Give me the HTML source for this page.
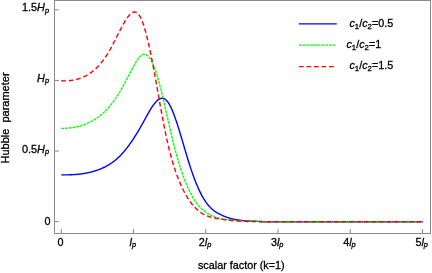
<!DOCTYPE html>
<html><head><meta charset="utf-8"><title>plot</title>
<style>
html,body{margin:0;padding:0;background:#fff;}
body{width:432px;height:273px;overflow:hidden;position:relative;font-family:"Liberation Sans",sans-serif;}
svg{will-change:transform;}
svg text{font-family:"Liberation Sans",sans-serif;fill:#000;stroke:#000;stroke-width:0.3px;}
</style></head><body>
<svg width="432" height="273" viewBox="0 0 432 273" style="position:absolute;left:0;top:0">
<rect x="0" y="0" width="432" height="273" fill="#fff"/>
<path d="M61.25,174.88 L61.75,174.88 L62.25,174.89 L62.75,174.89 L63.25,174.89 L63.75,174.89 L64.25,174.89 L64.75,174.89 L65.25,174.89 L65.75,174.89 L66.25,174.88 L66.75,174.87 L67.25,174.87 L67.75,174.86 L68.25,174.85 L68.75,174.83 L69.25,174.82 L69.75,174.80 L70.25,174.79 L70.75,174.77 L71.25,174.75 L71.75,174.72 L72.25,174.70 L72.75,174.67 L73.25,174.64 L73.75,174.61 L74.25,174.58 L74.75,174.55 L75.25,174.51 L75.75,174.47 L76.25,174.43 L76.75,174.39 L77.25,174.34 L77.75,174.29 L78.25,174.24 L78.75,174.19 L79.25,174.13 L79.75,174.08 L80.25,174.02 L80.75,173.95 L81.25,173.89 L81.75,173.82 L82.25,173.75 L82.75,173.68 L83.25,173.60 L83.75,173.52 L84.25,173.44 L84.75,173.35 L85.25,173.27 L85.75,173.18 L86.25,173.08 L86.75,172.98 L87.25,172.88 L87.75,172.78 L88.25,172.67 L88.75,172.56 L89.25,172.45 L89.75,172.33 L90.25,172.22 L90.75,172.09 L91.25,171.97 L91.75,171.84 L92.25,171.70 L92.75,171.56 L93.25,171.42 L93.75,171.28 L94.25,171.13 L94.75,170.98 L95.25,170.82 L95.75,170.66 L96.25,170.50 L96.75,170.33 L97.25,170.16 L97.75,169.98 L98.25,169.80 L98.75,169.62 L99.25,169.43 L99.75,169.24 L100.25,169.04 L100.75,168.84 L101.25,168.63 L101.75,168.41 L102.25,168.20 L102.75,167.97 L103.25,167.74 L103.75,167.51 L104.25,167.27 L104.75,167.02 L105.25,166.77 L105.75,166.51 L106.25,166.24 L106.75,165.97 L107.25,165.69 L107.75,165.40 L108.25,165.11 L108.75,164.81 L109.25,164.50 L109.75,164.19 L110.25,163.87 L110.75,163.54 L111.25,163.20 L111.75,162.86 L112.25,162.50 L112.75,162.14 L113.25,161.77 L113.75,161.39 L114.25,161.01 L114.75,160.61 L115.25,160.21 L115.75,159.80 L116.25,159.37 L116.75,158.94 L117.25,158.50 L117.75,158.05 L118.25,157.59 L118.75,157.12 L119.25,156.64 L119.75,156.15 L120.25,155.65 L120.75,155.14 L121.25,154.62 L121.75,154.09 L122.25,153.55 L122.75,153.00 L123.25,152.43 L123.75,151.86 L124.25,151.27 L124.75,150.68 L125.25,150.07 L125.75,149.46 L126.25,148.83 L126.75,148.19 L127.25,147.55 L127.75,146.89 L128.25,146.22 L128.75,145.55 L129.25,144.86 L129.75,144.17 L130.25,143.46 L130.75,142.75 L131.25,142.03 L131.75,141.30 L132.25,140.56 L132.75,139.81 L133.25,139.05 L133.75,138.29 L134.25,137.52 L134.75,136.73 L135.25,135.94 L135.75,135.15 L136.25,134.34 L136.75,133.53 L137.25,132.71 L137.75,131.88 L138.25,131.05 L138.75,130.20 L139.25,129.36 L139.75,128.50 L140.25,127.64 L140.75,126.77 L141.25,125.89 L141.75,125.01 L142.25,124.12 L142.75,123.23 L143.25,122.32 L143.75,121.42 L144.25,120.51 L144.75,119.60 L145.25,118.68 L145.75,117.77 L146.25,116.86 L146.75,115.96 L147.25,115.06 L147.75,114.17 L148.25,113.28 L148.75,112.41 L149.25,111.54 L149.75,110.70 L150.25,109.86 L150.75,109.04 L151.25,108.24 L151.75,107.46 L152.25,106.70 L152.75,105.97 L153.25,105.25 L153.75,104.56 L154.25,103.90 L154.75,103.27 L155.25,102.67 L155.75,102.10 L156.25,101.56 L156.75,101.06 L157.25,100.59 L157.75,100.16 L158.25,99.77 L158.75,99.43 L159.25,99.12 L159.75,98.86 L160.25,98.64 L160.75,98.47 L161.25,98.35 L161.75,98.28 L162.25,98.26 L162.75,98.30 L163.25,98.39 L163.75,98.53 L164.25,98.73 L164.75,99.00 L165.25,99.32 L165.75,99.70 L166.25,100.15 L166.75,100.67 L167.25,101.25 L167.75,101.90 L168.25,102.61 L168.75,103.38 L169.25,104.22 L169.75,105.11 L170.25,106.06 L170.75,107.06 L171.25,108.11 L171.75,109.22 L172.25,110.37 L172.75,111.57 L173.25,112.81 L173.75,114.09 L174.25,115.42 L174.75,116.78 L175.25,118.18 L175.75,119.61 L176.25,121.07 L176.75,122.57 L177.25,124.09 L177.75,125.64 L178.25,127.21 L178.75,128.80 L179.25,130.41 L179.75,132.05 L180.25,133.69 L180.75,135.35 L181.25,137.03 L181.75,138.71 L182.25,140.40 L182.75,142.09 L183.25,143.79 L183.75,145.50 L184.25,147.20 L184.75,148.90 L185.25,150.59 L185.75,152.28 L186.25,153.96 L186.75,155.63 L187.25,157.29 L187.75,158.93 L188.25,160.56 L188.75,162.17 L189.25,163.76 L189.75,165.32 L190.25,166.87 L190.75,168.38 L191.25,169.88 L191.75,171.35 L192.25,172.79 L192.75,174.21 L193.25,175.60 L193.75,176.97 L194.25,178.32 L194.75,179.63 L195.25,180.93 L195.75,182.19 L196.25,183.43 L196.75,184.65 L197.25,185.84 L197.75,187.00 L198.25,188.14 L198.75,189.25 L199.25,190.33 L199.75,191.39 L200.25,192.41 L200.75,193.42 L201.25,194.39 L201.75,195.34 L202.25,196.26 L202.75,197.15 L203.25,198.02 L203.75,198.86 L204.25,199.67 L204.75,200.45 L205.25,201.20 L205.75,201.93 L206.25,202.63 L206.75,203.31 L207.25,203.96 L207.75,204.58 L208.25,205.18 L208.75,205.76 L209.25,206.32 L209.75,206.86 L210.25,207.38 L210.75,207.87 L211.25,208.35 L211.75,208.81 L212.25,209.25 L212.75,209.67 L213.25,210.08 L213.75,210.48 L214.25,210.85 L214.75,211.22 L215.25,211.57 L215.75,211.91 L216.25,212.23 L216.75,212.55 L217.25,212.85 L217.75,213.14 L218.25,213.43 L218.75,213.71 L219.25,213.98 L219.75,214.24 L220.25,214.49 L220.75,214.74 L221.25,214.99 L221.75,215.22 L222.25,215.45 L222.75,215.67 L223.25,215.89 L223.75,216.10 L224.25,216.31 L224.75,216.51 L225.25,216.70 L225.75,216.89 L226.25,217.07 L226.75,217.24 L227.25,217.42 L227.75,217.58 L228.25,217.74 L228.75,217.90 L229.25,218.05 L229.75,218.19 L230.25,218.33 L230.75,218.47 L231.25,218.60 L231.75,218.72 L232.25,218.85 L232.75,218.96 L233.25,219.08 L233.75,219.19 L234.25,219.29 L234.75,219.39 L235.25,219.49 L235.75,219.58 L236.25,219.67 L236.75,219.76 L237.25,219.84 L237.75,219.92 L238.25,219.99 L238.75,220.07 L239.25,220.13 L239.75,220.20 L240.25,220.26 L240.75,220.32 L241.25,220.38 L241.75,220.44 L242.25,220.49 L242.75,220.54 L243.25,220.59 L243.75,220.63 L244.25,220.68 L244.75,220.72 L245.25,220.76 L245.75,220.79 L246.25,220.83 L246.75,220.86 L247.25,220.90 L247.75,220.93 L248.25,220.96 L248.75,220.98 L249.25,221.01 L249.75,221.04 L250.25,221.06 L250.75,221.08 L251.25,221.11 L251.75,221.13 L252.25,221.15 L252.75,221.17 L253.25,221.19 L253.75,221.21 L254.25,221.23 L254.75,221.25 L255.25,221.27 L255.75,221.29 L256.25,221.32 L256.75,221.34 L257.25,221.36 L257.75,221.38 L258.25,221.40 L258.75,221.42 L259.25,221.44 L259.75,221.47 L260.25,221.49 L260.75,221.52 L261.25,221.55 L261.75,221.57 L262.25,221.60 L262.75,221.64 L263.25,221.67 L263.75,221.70 L264.25,221.74 L264.75,221.75 L265.25,221.75 L265.75,221.75 L266.25,221.75 L266.75,221.75 L267.25,221.75 L267.75,221.75 L268.25,221.75 L268.75,221.75 L269.25,221.75 L269.75,221.75 L270.25,221.75 L270.75,221.75 L271.25,221.75 L271.75,221.75 L272.25,221.75 L272.75,221.75 L273.25,221.75 L273.75,221.75 L274.25,221.75 L274.75,221.75 L275.25,221.75 L275.75,221.75 L276.25,221.75 L276.75,221.75 L277.25,221.75 L277.75,221.75 L278.25,221.75 L278.75,221.75 L279.25,221.75 L279.75,221.75 L280.25,221.75 L280.75,221.75 L281.25,221.75 L281.75,221.75 L282.25,221.75 L282.75,221.75 L283.25,221.75 L283.75,221.75 L284.25,221.75 L284.75,221.75 L285.25,221.75 L285.75,221.75 L286.25,221.75 L286.75,221.75 L287.25,221.75 L287.75,221.75 L288.25,221.75 L288.75,221.75 L289.25,221.75 L289.75,221.75 L290.25,221.75 L290.75,221.75 L291.25,221.75 L291.75,221.75 L292.25,221.75 L292.75,221.75 L293.25,221.75 L293.75,221.75 L294.25,221.75 L294.75,221.75 L295.25,221.75 L295.75,221.75 L296.25,221.75 L296.75,221.75 L297.25,221.75 L297.75,221.75 L298.25,221.75 L298.75,221.75 L299.25,221.75 L299.75,221.75 L300.25,221.75 L300.75,221.75 L301.25,221.75 L301.75,221.75 L302.25,221.75 L302.75,221.75 L303.25,221.75 L303.75,221.75 L304.25,221.75 L304.75,221.75 L305.25,221.75 L305.75,221.75 L306.25,221.75 L306.75,221.75 L307.25,221.75 L307.75,221.75 L308.25,221.75 L308.75,221.75 L309.25,221.75 L309.75,221.75 L310.25,221.75 L310.75,221.75 L311.25,221.75 L311.75,221.75 L312.25,221.75 L312.75,221.75 L313.25,221.75 L313.75,221.75 L314.25,221.75 L314.75,221.75 L315.25,221.75 L315.75,221.75 L316.25,221.75 L316.75,221.75 L317.25,221.75 L317.75,221.75 L318.25,221.75 L318.75,221.75 L319.25,221.75 L319.75,221.75 L320.25,221.75 L320.75,221.75 L321.25,221.75 L321.75,221.75 L322.25,221.75 L322.75,221.75 L323.25,221.75 L323.75,221.75 L324.25,221.75 L324.75,221.75 L325.25,221.75 L325.75,221.75 L326.25,221.75 L326.75,221.75 L327.25,221.75 L327.75,221.75 L328.25,221.75 L328.75,221.75 L329.25,221.75 L329.75,221.75 L330.25,221.75 L330.75,221.75 L331.25,221.75 L331.75,221.75 L332.25,221.75 L332.75,221.75 L333.25,221.75 L333.75,221.75 L334.25,221.75 L334.75,221.75 L335.25,221.75 L335.75,221.75 L336.25,221.75 L336.75,221.75 L337.25,221.75 L337.75,221.75 L338.25,221.75 L338.75,221.75 L339.25,221.75 L339.75,221.75 L340.25,221.75 L340.75,221.75 L341.25,221.75 L341.75,221.75 L342.25,221.75 L342.75,221.75 L343.25,221.75 L343.75,221.75 L344.25,221.75 L344.75,221.75 L345.25,221.75 L345.75,221.75 L346.25,221.75 L346.75,221.75 L347.25,221.75 L347.75,221.75 L348.25,221.75 L348.75,221.75 L349.25,221.75 L349.75,221.75 L350.25,221.75 L350.75,221.75 L351.25,221.75 L351.75,221.75 L352.25,221.75 L352.75,221.75 L353.25,221.75 L353.75,221.75 L354.25,221.75 L354.75,221.75 L355.25,221.75 L355.75,221.75 L356.25,221.75 L356.75,221.75 L357.25,221.75 L357.75,221.75 L358.25,221.75 L358.75,221.75 L359.25,221.75 L359.75,221.75 L360.25,221.75 L360.75,221.75 L361.25,221.75 L361.75,221.75 L362.25,221.75 L362.75,221.75 L363.25,221.75 L363.75,221.75 L364.25,221.75 L364.75,221.75 L365.25,221.75 L365.75,221.75 L366.25,221.75 L366.75,221.75 L367.25,221.75 L367.75,221.75 L368.25,221.75 L368.75,221.75 L369.25,221.75 L369.75,221.75 L370.25,221.75 L370.75,221.75 L371.25,221.75 L371.75,221.75 L372.25,221.75 L372.75,221.75 L373.25,221.75 L373.75,221.75 L374.25,221.75 L374.75,221.75 L375.25,221.75 L375.75,221.75 L376.25,221.75 L376.75,221.75 L377.25,221.75 L377.75,221.75 L378.25,221.75 L378.75,221.75 L379.25,221.75 L379.75,221.75 L380.25,221.75 L380.75,221.75 L381.25,221.75 L381.75,221.75 L382.25,221.75 L382.75,221.75 L383.25,221.75 L383.75,221.75 L384.25,221.75 L384.75,221.75 L385.25,221.75 L385.75,221.75 L386.25,221.75 L386.75,221.75 L387.25,221.75 L387.75,221.75 L388.25,221.75 L388.75,221.75 L389.25,221.75 L389.75,221.75 L390.25,221.75 L390.75,221.75 L391.25,221.75 L391.75,221.75 L392.25,221.75 L392.75,221.75 L393.25,221.75 L393.75,221.75 L394.25,221.75 L394.75,221.75 L395.25,221.75 L395.75,221.75 L396.25,221.75 L396.75,221.75 L397.25,221.75 L397.75,221.75 L398.25,221.75 L398.75,221.75 L399.25,221.75 L399.75,221.75 L400.25,221.75 L400.75,221.75 L401.25,221.75 L401.75,221.75 L402.25,221.75 L402.75,221.75 L403.25,221.75 L403.75,221.75 L404.25,221.75 L404.75,221.75 L405.25,221.75 L405.75,221.75 L406.25,221.75 L406.75,221.75 L407.25,221.75 L407.75,221.75 L408.25,221.75 L408.75,221.75 L409.25,221.75 L409.75,221.75 L410.25,221.75 L410.75,221.75 L411.25,221.75 L411.75,221.75 L412.25,221.75 L412.75,221.75 L413.25,221.75 L413.75,221.75 L414.25,221.75 L414.75,221.75 L415.25,221.75 L415.75,221.75 L416.25,221.75 L416.75,221.75 L417.25,221.75 L417.75,221.75 L418.25,221.75 L418.75,221.75 L419.25,221.75 L419.75,221.75 L420.25,221.75 L420.75,221.75 L421.25,221.75 L421.75,221.75 L422.25,221.75 L422.75,221.75" fill="none" stroke="#0000ff" stroke-width="1.4"/>
<path d="M61.25,128.33 L61.75,128.34 L62.25,128.34 L62.75,128.34 L63.25,128.34 L63.75,128.33 L64.25,128.32 L64.75,128.31 L65.25,128.29 L65.75,128.27 L66.25,128.25 L66.75,128.22 L67.25,128.19 L67.75,128.15 L68.25,128.11 L68.75,128.07 L69.25,128.02 L69.75,127.97 L70.25,127.92 L70.75,127.86 L71.25,127.79 L71.75,127.73 L72.25,127.66 L72.75,127.58 L73.25,127.50 L73.75,127.42 L74.25,127.33 L74.75,127.24 L75.25,127.14 L75.75,127.04 L76.25,126.93 L76.75,126.82 L77.25,126.71 L77.75,126.59 L78.25,126.47 L78.75,126.34 L79.25,126.20 L79.75,126.07 L80.25,125.92 L80.75,125.78 L81.25,125.62 L81.75,125.47 L82.25,125.30 L82.75,125.14 L83.25,124.97 L83.75,124.79 L84.25,124.61 L84.75,124.42 L85.25,124.23 L85.75,124.03 L86.25,123.83 L86.75,123.62 L87.25,123.40 L87.75,123.18 L88.25,122.96 L88.75,122.72 L89.25,122.49 L89.75,122.24 L90.25,121.99 L90.75,121.73 L91.25,121.47 L91.75,121.20 L92.25,120.92 L92.75,120.64 L93.25,120.35 L93.75,120.05 L94.25,119.74 L94.75,119.43 L95.25,119.11 L95.75,118.78 L96.25,118.45 L96.75,118.10 L97.25,117.75 L97.75,117.39 L98.25,117.03 L98.75,116.65 L99.25,116.27 L99.75,115.88 L100.25,115.47 L100.75,115.07 L101.25,114.65 L101.75,114.22 L102.25,113.78 L102.75,113.34 L103.25,112.88 L103.75,112.42 L104.25,111.95 L104.75,111.46 L105.25,110.97 L105.75,110.47 L106.25,109.96 L106.75,109.43 L107.25,108.90 L107.75,108.36 L108.25,107.81 L108.75,107.24 L109.25,106.67 L109.75,106.08 L110.25,105.49 L110.75,104.88 L111.25,104.27 L111.75,103.64 L112.25,103.00 L112.75,102.35 L113.25,101.68 L113.75,101.01 L114.25,100.32 L114.75,99.62 L115.25,98.92 L115.75,98.19 L116.25,97.46 L116.75,96.71 L117.25,95.96 L117.75,95.18 L118.25,94.40 L118.75,93.60 L119.25,92.80 L119.75,91.97 L120.25,91.14 L120.75,90.29 L121.25,89.44 L121.75,88.57 L122.25,87.69 L122.75,86.80 L123.25,85.91 L123.75,85.00 L124.25,84.08 L124.75,83.16 L125.25,82.23 L125.75,81.29 L126.25,80.35 L126.75,79.40 L127.25,78.44 L127.75,77.48 L128.25,76.51 L128.75,75.54 L129.25,74.57 L129.75,73.59 L130.25,72.61 L130.75,71.63 L131.25,70.65 L131.75,69.67 L132.25,68.70 L132.75,67.74 L133.25,66.79 L133.75,65.86 L134.25,64.94 L134.75,64.05 L135.25,63.17 L135.75,62.33 L136.25,61.51 L136.75,60.72 L137.25,59.97 L137.75,59.26 L138.25,58.58 L138.75,57.95 L139.25,57.36 L139.75,56.82 L140.25,56.33 L140.75,55.89 L141.25,55.51 L141.75,55.18 L142.25,54.91 L142.75,54.70 L143.25,54.54 L143.75,54.45 L144.25,54.41 L144.75,54.43 L145.25,54.51 L145.75,54.66 L146.25,54.86 L146.75,55.13 L147.25,55.46 L147.75,55.86 L148.25,56.31 L148.75,56.84 L149.25,57.42 L149.75,58.08 L150.25,58.80 L150.75,59.59 L151.25,60.44 L151.75,61.36 L152.25,62.36 L152.75,63.42 L153.25,64.55 L153.75,65.76 L154.25,67.03 L154.75,68.38 L155.25,69.79 L155.75,71.26 L156.25,72.80 L156.75,74.39 L157.25,76.04 L157.75,77.74 L158.25,79.49 L158.75,81.29 L159.25,83.13 L159.75,85.02 L160.25,86.94 L160.75,88.91 L161.25,90.90 L161.75,92.93 L162.25,94.98 L162.75,97.06 L163.25,99.16 L163.75,101.29 L164.25,103.43 L164.75,105.58 L165.25,107.75 L165.75,109.93 L166.25,112.12 L166.75,114.31 L167.25,116.51 L167.75,118.71 L168.25,120.91 L168.75,123.10 L169.25,125.29 L169.75,127.47 L170.25,129.64 L170.75,131.79 L171.25,133.93 L171.75,136.05 L172.25,138.15 L172.75,140.23 L173.25,142.28 L173.75,144.30 L174.25,146.30 L174.75,148.26 L175.25,150.19 L175.75,152.08 L176.25,153.93 L176.75,155.75 L177.25,157.53 L177.75,159.28 L178.25,160.99 L178.75,162.67 L179.25,164.31 L179.75,165.92 L180.25,167.49 L180.75,169.04 L181.25,170.54 L181.75,172.02 L182.25,173.47 L182.75,174.88 L183.25,176.26 L183.75,177.61 L184.25,178.93 L184.75,180.22 L185.25,181.48 L185.75,182.71 L186.25,183.92 L186.75,185.09 L187.25,186.23 L187.75,187.35 L188.25,188.44 L188.75,189.50 L189.25,190.54 L189.75,191.55 L190.25,192.53 L190.75,193.49 L191.25,194.42 L191.75,195.33 L192.25,196.21 L192.75,197.07 L193.25,197.91 L193.75,198.72 L194.25,199.51 L194.75,200.28 L195.25,201.02 L195.75,201.75 L196.25,202.45 L196.75,203.13 L197.25,203.79 L197.75,204.43 L198.25,205.05 L198.75,205.65 L199.25,206.23 L199.75,206.79 L200.25,207.34 L200.75,207.86 L201.25,208.37 L201.75,208.86 L202.25,209.34 L202.75,209.79 L203.25,210.24 L203.75,210.66 L204.25,211.07 L204.75,211.47 L205.25,211.85 L205.75,212.22 L206.25,212.57 L206.75,212.91 L207.25,213.24 L207.75,213.55 L208.25,213.86 L208.75,214.15 L209.25,214.42 L209.75,214.69 L210.25,214.95 L210.75,215.20 L211.25,215.43 L211.75,215.66 L212.25,215.88 L212.75,216.09 L213.25,216.29 L213.75,216.48 L214.25,216.67 L214.75,216.84 L215.25,217.01 L215.75,217.18 L216.25,217.34 L216.75,217.49 L217.25,217.64 L217.75,217.78 L218.25,217.92 L218.75,218.05 L219.25,218.18 L219.75,218.30 L220.25,218.42 L220.75,218.54 L221.25,218.66 L221.75,218.77 L222.25,218.88 L222.75,218.98 L223.25,219.08 L223.75,219.18 L224.25,219.27 L224.75,219.36 L225.25,219.45 L225.75,219.53 L226.25,219.62 L226.75,219.69 L227.25,219.77 L227.75,219.84 L228.25,219.91 L228.75,219.98 L229.25,220.04 L229.75,220.11 L230.25,220.17 L230.75,220.22 L231.25,220.28 L231.75,220.33 L232.25,220.38 L232.75,220.43 L233.25,220.48 L233.75,220.52 L234.25,220.56 L234.75,220.60 L235.25,220.64 L235.75,220.68 L236.25,220.71 L236.75,220.75 L237.25,220.78 L237.75,220.81 L238.25,220.83 L238.75,220.86 L239.25,220.89 L239.75,220.91 L240.25,220.93 L240.75,220.95 L241.25,220.98 L241.75,220.99 L242.25,221.01 L242.75,221.03 L243.25,221.05 L243.75,221.06 L244.25,221.08 L244.75,221.09 L245.25,221.11 L245.75,221.12 L246.25,221.13 L246.75,221.14 L247.25,221.15 L247.75,221.17 L248.25,221.18 L248.75,221.19 L249.25,221.20 L249.75,221.21 L250.25,221.22 L250.75,221.23 L251.25,221.24 L251.75,221.25 L252.25,221.26 L252.75,221.27 L253.25,221.28 L253.75,221.30 L254.25,221.31 L254.75,221.32 L255.25,221.34 L255.75,221.35 L256.25,221.36 L256.75,221.38 L257.25,221.40 L257.75,221.41 L258.25,221.43 L258.75,221.45 L259.25,221.47 L259.75,221.50 L260.25,221.52 L260.75,221.54 L261.25,221.57 L261.75,221.59 L262.25,221.62 L262.75,221.65 L263.25,221.68 L263.75,221.72 L264.25,221.75 L264.75,221.75 L265.25,221.75 L265.75,221.75 L266.25,221.75 L266.75,221.75 L267.25,221.75 L267.75,221.75 L268.25,221.75 L268.75,221.75 L269.25,221.75 L269.75,221.75 L270.25,221.75 L270.75,221.75 L271.25,221.75 L271.75,221.75 L272.25,221.75 L272.75,221.75 L273.25,221.75 L273.75,221.75 L274.25,221.75 L274.75,221.75 L275.25,221.75 L275.75,221.75 L276.25,221.75 L276.75,221.75 L277.25,221.75 L277.75,221.75 L278.25,221.75 L278.75,221.75 L279.25,221.75 L279.75,221.75 L280.25,221.75 L280.75,221.75 L281.25,221.75 L281.75,221.75 L282.25,221.75 L282.75,221.75 L283.25,221.75 L283.75,221.75 L284.25,221.75 L284.75,221.75 L285.25,221.75 L285.75,221.75 L286.25,221.75 L286.75,221.75 L287.25,221.75 L287.75,221.75 L288.25,221.75 L288.75,221.75 L289.25,221.75 L289.75,221.75 L290.25,221.75 L290.75,221.75 L291.25,221.75 L291.75,221.75 L292.25,221.75 L292.75,221.75 L293.25,221.75 L293.75,221.75 L294.25,221.75 L294.75,221.75 L295.25,221.75 L295.75,221.75 L296.25,221.75 L296.75,221.75 L297.25,221.75 L297.75,221.75 L298.25,221.75 L298.75,221.75 L299.25,221.75 L299.75,221.75 L300.25,221.75 L300.75,221.75 L301.25,221.75 L301.75,221.75 L302.25,221.75 L302.75,221.75 L303.25,221.75 L303.75,221.75 L304.25,221.75 L304.75,221.75 L305.25,221.75 L305.75,221.75 L306.25,221.75 L306.75,221.75 L307.25,221.75 L307.75,221.75 L308.25,221.75 L308.75,221.75 L309.25,221.75 L309.75,221.75 L310.25,221.75 L310.75,221.75 L311.25,221.75 L311.75,221.75 L312.25,221.75 L312.75,221.75 L313.25,221.75 L313.75,221.75 L314.25,221.75 L314.75,221.75 L315.25,221.75 L315.75,221.75 L316.25,221.75 L316.75,221.75 L317.25,221.75 L317.75,221.75 L318.25,221.75 L318.75,221.75 L319.25,221.75 L319.75,221.75 L320.25,221.75 L320.75,221.75 L321.25,221.75 L321.75,221.75 L322.25,221.75 L322.75,221.75 L323.25,221.75 L323.75,221.75 L324.25,221.75 L324.75,221.75 L325.25,221.75 L325.75,221.75 L326.25,221.75 L326.75,221.75 L327.25,221.75 L327.75,221.75 L328.25,221.75 L328.75,221.75 L329.25,221.75 L329.75,221.75 L330.25,221.75 L330.75,221.75 L331.25,221.75 L331.75,221.75 L332.25,221.75 L332.75,221.75 L333.25,221.75 L333.75,221.75 L334.25,221.75 L334.75,221.75 L335.25,221.75 L335.75,221.75 L336.25,221.75 L336.75,221.75 L337.25,221.75 L337.75,221.75 L338.25,221.75 L338.75,221.75 L339.25,221.75 L339.75,221.75 L340.25,221.75 L340.75,221.75 L341.25,221.75 L341.75,221.75 L342.25,221.75 L342.75,221.75 L343.25,221.75 L343.75,221.75 L344.25,221.75 L344.75,221.75 L345.25,221.75 L345.75,221.75 L346.25,221.75 L346.75,221.75 L347.25,221.75 L347.75,221.75 L348.25,221.75 L348.75,221.75 L349.25,221.75 L349.75,221.75 L350.25,221.75 L350.75,221.75 L351.25,221.75 L351.75,221.75 L352.25,221.75 L352.75,221.75 L353.25,221.75 L353.75,221.75 L354.25,221.75 L354.75,221.75 L355.25,221.75 L355.75,221.75 L356.25,221.75 L356.75,221.75 L357.25,221.75 L357.75,221.75 L358.25,221.75 L358.75,221.75 L359.25,221.75 L359.75,221.75 L360.25,221.75 L360.75,221.75 L361.25,221.75 L361.75,221.75 L362.25,221.75 L362.75,221.75 L363.25,221.75 L363.75,221.75 L364.25,221.75 L364.75,221.75 L365.25,221.75 L365.75,221.75 L366.25,221.75 L366.75,221.75 L367.25,221.75 L367.75,221.75 L368.25,221.75 L368.75,221.75 L369.25,221.75 L369.75,221.75 L370.25,221.75 L370.75,221.75 L371.25,221.75 L371.75,221.75 L372.25,221.75 L372.75,221.75 L373.25,221.75 L373.75,221.75 L374.25,221.75 L374.75,221.75 L375.25,221.75 L375.75,221.75 L376.25,221.75 L376.75,221.75 L377.25,221.75 L377.75,221.75 L378.25,221.75 L378.75,221.75 L379.25,221.75 L379.75,221.75 L380.25,221.75 L380.75,221.75 L381.25,221.75 L381.75,221.75 L382.25,221.75 L382.75,221.75 L383.25,221.75 L383.75,221.75 L384.25,221.75 L384.75,221.75 L385.25,221.75 L385.75,221.75 L386.25,221.75 L386.75,221.75 L387.25,221.75 L387.75,221.75 L388.25,221.75 L388.75,221.75 L389.25,221.75 L389.75,221.75 L390.25,221.75 L390.75,221.75 L391.25,221.75 L391.75,221.75 L392.25,221.75 L392.75,221.75 L393.25,221.75 L393.75,221.75 L394.25,221.75 L394.75,221.75 L395.25,221.75 L395.75,221.75 L396.25,221.75 L396.75,221.75 L397.25,221.75 L397.75,221.75 L398.25,221.75 L398.75,221.75 L399.25,221.75 L399.75,221.75 L400.25,221.75 L400.75,221.75 L401.25,221.75 L401.75,221.75 L402.25,221.75 L402.75,221.75 L403.25,221.75 L403.75,221.75 L404.25,221.75 L404.75,221.75 L405.25,221.75 L405.75,221.75 L406.25,221.75 L406.75,221.75 L407.25,221.75 L407.75,221.75 L408.25,221.75 L408.75,221.75 L409.25,221.75 L409.75,221.75 L410.25,221.75 L410.75,221.75 L411.25,221.75 L411.75,221.75 L412.25,221.75 L412.75,221.75 L413.25,221.75 L413.75,221.75 L414.25,221.75 L414.75,221.75 L415.25,221.75 L415.75,221.75 L416.25,221.75 L416.75,221.75 L417.25,221.75 L417.75,221.75 L418.25,221.75 L418.75,221.75 L419.25,221.75 L419.75,221.75 L420.25,221.75 L420.75,221.75 L421.25,221.75 L421.75,221.75 L422.25,221.75 L422.75,221.75" fill="none" stroke="#00ff00" stroke-width="1.3" stroke-dasharray="2.9,0.85"/>
<path d="M61.25,80.78 L61.75,80.80 L62.25,80.81 L62.75,80.82 L63.25,80.83 L63.75,80.84 L64.25,80.84 L64.75,80.83 L65.25,80.83 L65.75,80.81 L66.25,80.80 L66.75,80.78 L67.25,80.75 L67.75,80.72 L68.25,80.69 L68.75,80.65 L69.25,80.61 L69.75,80.56 L70.25,80.51 L70.75,80.45 L71.25,80.39 L71.75,80.32 L72.25,80.24 L72.75,80.16 L73.25,80.08 L73.75,79.99 L74.25,79.89 L74.75,79.79 L75.25,79.68 L75.75,79.56 L76.25,79.44 L76.75,79.31 L77.25,79.18 L77.75,79.04 L78.25,78.89 L78.75,78.74 L79.25,78.58 L79.75,78.41 L80.25,78.24 L80.75,78.05 L81.25,77.86 L81.75,77.67 L82.25,77.47 L82.75,77.25 L83.25,77.04 L83.75,76.81 L84.25,76.58 L84.75,76.33 L85.25,76.08 L85.75,75.83 L86.25,75.56 L86.75,75.28 L87.25,75.00 L87.75,74.71 L88.25,74.41 L88.75,74.10 L89.25,73.78 L89.75,73.45 L90.25,73.11 L90.75,72.76 L91.25,72.40 L91.75,72.03 L92.25,71.65 L92.75,71.26 L93.25,70.85 L93.75,70.44 L94.25,70.01 L94.75,69.58 L95.25,69.13 L95.75,68.67 L96.25,68.19 L96.75,67.71 L97.25,67.21 L97.75,66.70 L98.25,66.18 L98.75,65.64 L99.25,65.09 L99.75,64.53 L100.25,63.95 L100.75,63.36 L101.25,62.75 L101.75,62.13 L102.25,61.50 L102.75,60.85 L103.25,60.19 L103.75,59.51 L104.25,58.81 L104.75,58.10 L105.25,57.38 L105.75,56.64 L106.25,55.88 L106.75,55.11 L107.25,54.32 L107.75,53.51 L108.25,52.69 L108.75,51.85 L109.25,50.99 L109.75,50.11 L110.25,49.23 L110.75,48.32 L111.25,47.41 L111.75,46.48 L112.25,45.54 L112.75,44.59 L113.25,43.63 L113.75,42.67 L114.25,41.70 L114.75,40.72 L115.25,39.74 L115.75,38.76 L116.25,37.77 L116.75,36.78 L117.25,35.79 L117.75,34.81 L118.25,33.82 L118.75,32.84 L119.25,31.86 L119.75,30.89 L120.25,29.93 L120.75,28.97 L121.25,28.02 L121.75,27.08 L122.25,26.15 L122.75,25.23 L123.25,24.32 L123.75,23.43 L124.25,22.56 L124.75,21.71 L125.25,20.87 L125.75,20.07 L126.25,19.28 L126.75,18.53 L127.25,17.80 L127.75,17.11 L128.25,16.45 L128.75,15.83 L129.25,15.24 L129.75,14.70 L130.25,14.20 L130.75,13.75 L131.25,13.34 L131.75,12.98 L132.25,12.67 L132.75,12.42 L133.25,12.23 L133.75,12.09 L134.25,12.02 L134.75,12.01 L135.25,12.07 L135.75,12.20 L136.25,12.40 L136.75,12.67 L137.25,13.03 L137.75,13.46 L138.25,13.97 L138.75,14.57 L139.25,15.25 L139.75,16.03 L140.25,16.90 L140.75,17.86 L141.25,18.92 L141.75,20.07 L142.25,21.31 L142.75,22.64 L143.25,24.06 L143.75,25.57 L144.25,27.15 L144.75,28.82 L145.25,30.56 L145.75,32.38 L146.25,34.26 L146.75,36.22 L147.25,38.24 L147.75,40.32 L148.25,42.46 L148.75,44.67 L149.25,46.93 L149.75,49.24 L150.25,51.60 L150.75,54.01 L151.25,56.46 L151.75,58.96 L152.25,61.50 L152.75,64.07 L153.25,66.68 L153.75,69.32 L154.25,71.99 L154.75,74.69 L155.25,77.41 L155.75,80.16 L156.25,82.92 L156.75,85.70 L157.25,88.49 L157.75,91.30 L158.25,94.11 L158.75,96.92 L159.25,99.73 L159.75,102.53 L160.25,105.32 L160.75,108.10 L161.25,110.86 L161.75,113.60 L162.25,116.32 L162.75,119.00 L163.25,121.65 L163.75,124.27 L164.25,126.84 L164.75,129.37 L165.25,131.84 L165.75,134.27 L166.25,136.64 L166.75,138.95 L167.25,141.20 L167.75,143.40 L168.25,145.54 L168.75,147.63 L169.25,149.66 L169.75,151.65 L170.25,153.58 L170.75,155.47 L171.25,157.30 L171.75,159.10 L172.25,160.84 L172.75,162.54 L173.25,164.20 L173.75,165.81 L174.25,167.39 L174.75,168.92 L175.25,170.42 L175.75,171.88 L176.25,173.30 L176.75,174.69 L177.25,176.04 L177.75,177.36 L178.25,178.65 L178.75,179.91 L179.25,181.14 L179.75,182.34 L180.25,183.51 L180.75,184.66 L181.25,185.78 L181.75,186.88 L182.25,187.95 L182.75,188.99 L183.25,190.01 L183.75,191.00 L184.25,191.97 L184.75,192.92 L185.25,193.84 L185.75,194.74 L186.25,195.62 L186.75,196.47 L187.25,197.30 L187.75,198.11 L188.25,198.90 L188.75,199.66 L189.25,200.41 L189.75,201.13 L190.25,201.83 L190.75,202.52 L191.25,203.18 L191.75,203.82 L192.25,204.45 L192.75,205.05 L193.25,205.64 L193.75,206.21 L194.25,206.76 L194.75,207.30 L195.25,207.82 L195.75,208.32 L196.25,208.80 L196.75,209.27 L197.25,209.72 L197.75,210.16 L198.25,210.58 L198.75,210.98 L199.25,211.38 L199.75,211.75 L200.25,212.12 L200.75,212.47 L201.25,212.80 L201.75,213.13 L202.25,213.44 L202.75,213.74 L203.25,214.03 L203.75,214.30 L204.25,214.57 L204.75,214.82 L205.25,215.07 L205.75,215.30 L206.25,215.52 L206.75,215.73 L207.25,215.94 L207.75,216.13 L208.25,216.32 L208.75,216.50 L209.25,216.67 L209.75,216.83 L210.25,216.99 L210.75,217.14 L211.25,217.28 L211.75,217.41 L212.25,217.54 L212.75,217.67 L213.25,217.78 L213.75,217.90 L214.25,218.01 L214.75,218.11 L215.25,218.21 L215.75,218.31 L216.25,218.40 L216.75,218.49 L217.25,218.58 L217.75,218.66 L218.25,218.75 L218.75,218.83 L219.25,218.91 L219.75,218.99 L220.25,219.06 L220.75,219.14 L221.25,219.21 L221.75,219.29 L222.25,219.36 L222.75,219.43 L223.25,219.50 L223.75,219.56 L224.25,219.63 L224.75,219.70 L225.25,219.76 L225.75,219.82 L226.25,219.88 L226.75,219.94 L227.25,220.00 L227.75,220.06 L228.25,220.11 L228.75,220.17 L229.25,220.22 L229.75,220.28 L230.25,220.33 L230.75,220.38 L231.25,220.43 L231.75,220.48 L232.25,220.52 L232.75,220.57 L233.25,220.61 L233.75,220.66 L234.25,220.70 L234.75,220.74 L235.25,220.78 L235.75,220.82 L236.25,220.86 L236.75,220.90 L237.25,220.93 L237.75,220.97 L238.25,221.00 L238.75,221.04 L239.25,221.07 L239.75,221.10 L240.25,221.13 L240.75,221.16 L241.25,221.19 L241.75,221.22 L242.25,221.24 L242.75,221.27 L243.25,221.29 L243.75,221.32 L244.25,221.34 L244.75,221.36 L245.25,221.39 L245.75,221.41 L246.25,221.43 L246.75,221.45 L247.25,221.47 L247.75,221.48 L248.25,221.50 L248.75,221.52 L249.25,221.53 L249.75,221.55 L250.25,221.56 L250.75,221.57 L251.25,221.59 L251.75,221.60 L252.25,221.61 L252.75,221.62 L253.25,221.63 L253.75,221.64 L254.25,221.65 L254.75,221.66 L255.25,221.66 L255.75,221.67 L256.25,221.68 L256.75,221.68 L257.25,221.69 L257.75,221.69 L258.25,221.70 L258.75,221.70 L259.25,221.70 L259.75,221.71 L260.25,221.71 L260.75,221.71 L261.25,221.71 L261.75,221.71 L262.25,221.71 L262.75,221.71 L263.25,221.71 L263.75,221.71 L264.25,221.71 L264.75,221.71 L265.25,221.70 L265.75,221.70 L266.25,221.75 L266.75,221.75 L267.25,221.75 L267.75,221.75 L268.25,221.75 L268.75,221.75 L269.25,221.75 L269.75,221.75 L270.25,221.75 L270.75,221.75 L271.25,221.75 L271.75,221.75 L272.25,221.75 L272.75,221.75 L273.25,221.75 L273.75,221.75 L274.25,221.75 L274.75,221.75 L275.25,221.75 L275.75,221.75 L276.25,221.75 L276.75,221.75 L277.25,221.75 L277.75,221.75 L278.25,221.75 L278.75,221.75 L279.25,221.75 L279.75,221.75 L280.25,221.75 L280.75,221.75 L281.25,221.75 L281.75,221.75 L282.25,221.75 L282.75,221.75 L283.25,221.75 L283.75,221.75 L284.25,221.75 L284.75,221.75 L285.25,221.75 L285.75,221.75 L286.25,221.75 L286.75,221.75 L287.25,221.75 L287.75,221.75 L288.25,221.75 L288.75,221.75 L289.25,221.75 L289.75,221.75 L290.25,221.75 L290.75,221.75 L291.25,221.75 L291.75,221.75 L292.25,221.75 L292.75,221.75 L293.25,221.75 L293.75,221.75 L294.25,221.75 L294.75,221.75 L295.25,221.75 L295.75,221.75 L296.25,221.75 L296.75,221.75 L297.25,221.75 L297.75,221.75 L298.25,221.75 L298.75,221.75 L299.25,221.75 L299.75,221.75 L300.25,221.75 L300.75,221.75 L301.25,221.75 L301.75,221.75 L302.25,221.75 L302.75,221.75 L303.25,221.75 L303.75,221.75 L304.25,221.75 L304.75,221.75 L305.25,221.75 L305.75,221.75 L306.25,221.75 L306.75,221.75 L307.25,221.75 L307.75,221.75 L308.25,221.75 L308.75,221.75 L309.25,221.75 L309.75,221.75 L310.25,221.75 L310.75,221.75 L311.25,221.75 L311.75,221.75 L312.25,221.75 L312.75,221.75 L313.25,221.75 L313.75,221.75 L314.25,221.75 L314.75,221.75 L315.25,221.75 L315.75,221.75 L316.25,221.75 L316.75,221.75 L317.25,221.75 L317.75,221.75 L318.25,221.75 L318.75,221.75 L319.25,221.75 L319.75,221.75 L320.25,221.75 L320.75,221.75 L321.25,221.75 L321.75,221.75 L322.25,221.75 L322.75,221.75 L323.25,221.75 L323.75,221.75 L324.25,221.75 L324.75,221.75 L325.25,221.75 L325.75,221.75 L326.25,221.75 L326.75,221.75 L327.25,221.75 L327.75,221.75 L328.25,221.75 L328.75,221.75 L329.25,221.75 L329.75,221.75 L330.25,221.75 L330.75,221.75 L331.25,221.75 L331.75,221.75 L332.25,221.75 L332.75,221.75 L333.25,221.75 L333.75,221.75 L334.25,221.75 L334.75,221.75 L335.25,221.75 L335.75,221.75 L336.25,221.75 L336.75,221.75 L337.25,221.75 L337.75,221.75 L338.25,221.75 L338.75,221.75 L339.25,221.75 L339.75,221.75 L340.25,221.75 L340.75,221.75 L341.25,221.75 L341.75,221.75 L342.25,221.75 L342.75,221.75 L343.25,221.75 L343.75,221.75 L344.25,221.75 L344.75,221.75 L345.25,221.75 L345.75,221.75 L346.25,221.75 L346.75,221.75 L347.25,221.75 L347.75,221.75 L348.25,221.75 L348.75,221.75 L349.25,221.75 L349.75,221.75 L350.25,221.75 L350.75,221.75 L351.25,221.75 L351.75,221.75 L352.25,221.75 L352.75,221.75 L353.25,221.75 L353.75,221.75 L354.25,221.75 L354.75,221.75 L355.25,221.75 L355.75,221.75 L356.25,221.75 L356.75,221.75 L357.25,221.75 L357.75,221.75 L358.25,221.75 L358.75,221.75 L359.25,221.75 L359.75,221.75 L360.25,221.75 L360.75,221.75 L361.25,221.75 L361.75,221.75 L362.25,221.75 L362.75,221.75 L363.25,221.75 L363.75,221.75 L364.25,221.75 L364.75,221.75 L365.25,221.75 L365.75,221.75 L366.25,221.75 L366.75,221.75 L367.25,221.75 L367.75,221.75 L368.25,221.75 L368.75,221.75 L369.25,221.75 L369.75,221.75 L370.25,221.75 L370.75,221.75 L371.25,221.75 L371.75,221.75 L372.25,221.75 L372.75,221.75 L373.25,221.75 L373.75,221.75 L374.25,221.75 L374.75,221.75 L375.25,221.75 L375.75,221.75 L376.25,221.75 L376.75,221.75 L377.25,221.75 L377.75,221.75 L378.25,221.75 L378.75,221.75 L379.25,221.75 L379.75,221.75 L380.25,221.75 L380.75,221.75 L381.25,221.75 L381.75,221.75 L382.25,221.75 L382.75,221.75 L383.25,221.75 L383.75,221.75 L384.25,221.75 L384.75,221.75 L385.25,221.75 L385.75,221.75 L386.25,221.75 L386.75,221.75 L387.25,221.75 L387.75,221.75 L388.25,221.75 L388.75,221.75 L389.25,221.75 L389.75,221.75 L390.25,221.75 L390.75,221.75 L391.25,221.75 L391.75,221.75 L392.25,221.75 L392.75,221.75 L393.25,221.75 L393.75,221.75 L394.25,221.75 L394.75,221.75 L395.25,221.75 L395.75,221.75 L396.25,221.75 L396.75,221.75 L397.25,221.75 L397.75,221.75 L398.25,221.75 L398.75,221.75 L399.25,221.75 L399.75,221.75 L400.25,221.75 L400.75,221.75 L401.25,221.75 L401.75,221.75 L402.25,221.75 L402.75,221.75 L403.25,221.75 L403.75,221.75 L404.25,221.75 L404.75,221.75 L405.25,221.75 L405.75,221.75 L406.25,221.75 L406.75,221.75 L407.25,221.75 L407.75,221.75 L408.25,221.75 L408.75,221.75 L409.25,221.75 L409.75,221.75 L410.25,221.75 L410.75,221.75 L411.25,221.75 L411.75,221.75 L412.25,221.75 L412.75,221.75 L413.25,221.75 L413.75,221.75 L414.25,221.75 L414.75,221.75 L415.25,221.75 L415.75,221.75 L416.25,221.75 L416.75,221.75 L417.25,221.75 L417.75,221.75 L418.25,221.75 L418.75,221.75 L419.25,221.75 L419.75,221.75 L420.25,221.75 L420.75,221.75 L421.25,221.75 L421.75,221.75 L422.25,221.75 L422.75,221.75" fill="none" stroke="#ff0000" stroke-width="1.4" stroke-dasharray="4.7,2.8"/>
<rect x="54.5" y="0.5" width="376.0" height="233.0" fill="none" stroke="#8a8a8a" stroke-width="1"/>
<line x1="61.30" y1="233.5" x2="61.30" y2="229.0" stroke="#8a8a8a" stroke-width="1"/>
<line x1="133.54" y1="233.5" x2="133.54" y2="229.0" stroke="#8a8a8a" stroke-width="1"/>
<line x1="205.78" y1="233.5" x2="205.78" y2="229.0" stroke="#8a8a8a" stroke-width="1"/>
<line x1="278.02" y1="233.5" x2="278.02" y2="229.0" stroke="#8a8a8a" stroke-width="1"/>
<line x1="350.26" y1="233.5" x2="350.26" y2="229.0" stroke="#8a8a8a" stroke-width="1"/>
<line x1="422.50" y1="233.5" x2="422.50" y2="229.0" stroke="#8a8a8a" stroke-width="1"/>
<line x1="54.5" y1="221.60" x2="59.0" y2="221.60" stroke="#8a8a8a" stroke-width="1"/>
<line x1="54.5" y1="151.02" x2="59.0" y2="151.02" stroke="#8a8a8a" stroke-width="1"/>
<line x1="54.5" y1="80.44" x2="59.0" y2="80.44" stroke="#8a8a8a" stroke-width="1"/>
<line x1="54.5" y1="9.86" x2="59.0" y2="9.86" stroke="#8a8a8a" stroke-width="1"/>
<line x1="298.8" y1="23.9" x2="336.8" y2="23.9" stroke="#0000ff" stroke-width="1.4"/>
<line x1="299" y1="45.2" x2="336.3" y2="45.2" stroke="#00ff00" stroke-width="1.3" stroke-dasharray="2.9,0.85"/>
<line x1="299" y1="66.6" x2="335" y2="66.6" stroke="#ff0000" stroke-width="1.4" stroke-dasharray="4.7,2.8"/>
<text x="49.0" y="11.4" text-anchor="end" font-size="10.8">1.5<tspan font-style="italic">H</tspan><tspan font-style="italic" font-size="7.4" dy="1.1">p</tspan></text>
<text x="49.0" y="82.1" text-anchor="end" font-size="10.8"><tspan font-style="italic">H</tspan><tspan font-style="italic" font-size="7.4" dy="1.1">p</tspan></text>
<text x="49.0" y="152.7" text-anchor="end" font-size="10.8">0.5<tspan font-style="italic">H</tspan><tspan font-style="italic" font-size="7.4" dy="1.1">p</tspan></text>
<text x="50.4" y="225.0" text-anchor="end" font-size="10.8">0</text>
<text x="60.5" y="246" text-anchor="middle" font-size="10.8">0</text>
<text x="132.73999999999998" y="246" text-anchor="middle" font-size="10.8"><tspan font-style="italic">l</tspan><tspan font-style="italic" font-size="7.4" dy="1.1">p</tspan></text>
<text x="204.97999999999996" y="246" text-anchor="middle" font-size="10.8">2<tspan font-style="italic">l</tspan><tspan font-style="italic" font-size="7.4" dy="1.1">p</tspan></text>
<text x="277.21999999999997" y="246" text-anchor="middle" font-size="10.8">3<tspan font-style="italic">l</tspan><tspan font-style="italic" font-size="7.4" dy="1.1">p</tspan></text>
<text x="349.46" y="246" text-anchor="middle" font-size="10.8">4<tspan font-style="italic">l</tspan><tspan font-style="italic" font-size="7.4" dy="1.1">p</tspan></text>
<text x="421.7" y="246" text-anchor="middle" font-size="10.8">5<tspan font-style="italic">l</tspan><tspan font-style="italic" font-size="7.4" dy="1.1">p</tspan></text>
<text x="241.3" y="269.2" text-anchor="middle" font-size="10.8">scalar factor (k=1)</text>
<text transform="translate(8.5,118) rotate(-90)" text-anchor="middle" font-size="11">Hubble&#160;&#160;parameter</text>
<text x="349.4" y="26.8" font-size="10.8"><tspan font-style="italic">c</tspan><tspan font-size="7.8" dy="2.0">1</tspan><tspan dy="-2.0">/</tspan><tspan font-style="italic">c</tspan><tspan font-size="7.8" dy="2.0">2</tspan><tspan dy="-2.0">=0.5</tspan></text>
<text x="346.4" y="48.1" font-size="10.8"><tspan font-style="italic">c</tspan><tspan font-size="7.8" dy="2.0">1</tspan><tspan dy="-2.0">/</tspan><tspan font-style="italic">c</tspan><tspan font-size="7.8" dy="2.0">2</tspan><tspan dy="-2.0">=1</tspan></text>
<text x="349.4" y="69.3" font-size="10.8"><tspan font-style="italic">c</tspan><tspan font-size="7.8" dy="2.0">1</tspan><tspan dy="-2.0">/</tspan><tspan font-style="italic">c</tspan><tspan font-size="7.8" dy="2.0">2</tspan><tspan dy="-2.0">=1.5</tspan></text>
</svg>
</body></html>
